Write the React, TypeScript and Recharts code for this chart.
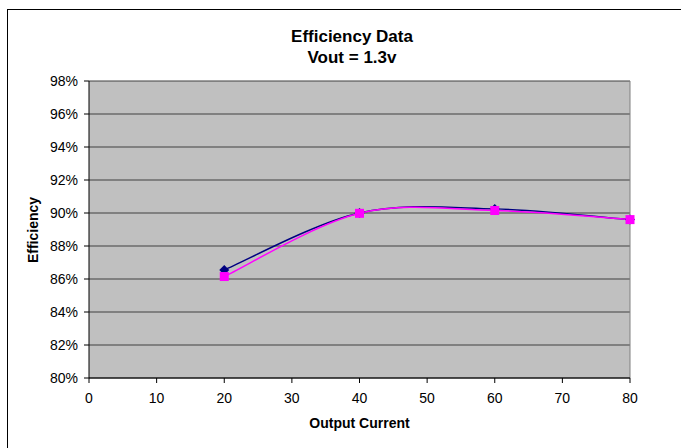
import React from 'react';
import { LineChart, Line, XAxis, YAxis, CartesianGrid, ReferenceLine } from 'recharts';

const current = [20, 40, 60, 80];
const effA = [86.55, 90.0, 90.25, 89.6];
const effB = [86.15, 89.98, 90.15, 89.6];
const yTicks = [80, 82, 84, 86, 88, 90, 92, 94, 96, 98];
const xTicks = [0, 10, 20, 30, 40, 50, 60, 70, 80];

const data = current.map((c, i) => ({ current: c, a: effA[i], b: effB[i] }));

const font = '"Liberation Sans", Arial, sans-serif';

// Excel-style smoothed line (Catmull-Rom through the points)
const smooth = (context: any) => {
  let pts: number[][] = [];
  return {
    areaStart() {},
    areaEnd() {},
    lineStart() {
      pts = [];
    },
    point(x: number, y: number) {
      pts.push([+x, +y]);
    },
    lineEnd() {
      if (!pts.length) return;
      context.moveTo(pts[0][0], pts[0][1]);
      for (let i = 0; i < pts.length - 1; i++) {
        const p0 = pts[i - 1] || pts[i];
        const p1 = pts[i];
        const p2 = pts[i + 1];
        const p3 = pts[i + 2] || p2;
        context.bezierCurveTo(
          p1[0] + (p2[0] - p0[0]) / 6,
          p1[1] + (p2[1] - p0[1]) / 6,
          p2[0] - (p3[0] - p1[0]) / 6,
          p2[1] - (p3[1] - p1[1]) / 6,
          p2[0],
          p2[1]
        );
      }
    },
  };
};

const Diamond = (props: any) => {
  const { cx, cy } = props;
  if (cx == null || cy == null) return null;
  const r = 5;
  return <path d={`M${cx},${cy - r}L${cx + r},${cy}L${cx},${cy + r}L${cx - r},${cy}Z`} fill="#000080" />;
};

const Square = (props: any) => {
  const { cx, cy } = props;
  if (cx == null || cy == null) return null;
  return <rect x={cx - 4.5} y={cy - 4.5} width={9} height={9} fill="#ff00ff" />;
};

const App = () => {
  return (
    <div style={{ position: 'absolute', left: 0, top: 0, width: 681, height: 448, overflow: 'hidden', background: '#fff' }}>
      <div style={{ position: 'absolute', left: 7, top: 9, width: 800, height: 600, border: '1px solid #000' }} />
      <div style={{ position: 'absolute', left: 0, top: 0 }}>
        <LineChart width={681} height={448} data={data} margin={{ top: 81, right: 51, bottom: 40, left: 0 }}>
          <CartesianGrid vertical={false} stroke="#404040" fill="#c0c0c0" fillOpacity={1} />
          <XAxis
            dataKey="current"
            type="number"
            domain={[0, 80]}
            ticks={xTicks}
            height={30}
            stroke="#000"
            tickSize={5}
            tickMargin={10}
            tick={{ fill: '#000', fontSize: 14, fontFamily: font }}
          />
          <YAxis
            type="number"
            domain={[80, 98]}
            ticks={yTicks}
            width={89}
            stroke="#000"
            tickSize={5}
            tickMargin={6}
            tickFormatter={(v: number) => `${v}%`}
            tick={{ fill: '#000', fontSize: 14, fontFamily: font }}
          />
          <ReferenceLine x={80} stroke="#808080" strokeWidth={1} />
          <Line
            dataKey="a"
            type={smooth as any}
            stroke="#000080"
            strokeWidth={1.5}
            dot={(p: any) => <Diamond key={`a${p.index}`} {...p} />}
            activeDot={false}
            isAnimationActive={false}
          />
          <Line
            dataKey="b"
            type={smooth as any}
            stroke="#ff00ff"
            strokeWidth={1.5}
            dot={(p: any) => <Square key={`b${p.index}`} {...p} />}
            activeDot={false}
            isAnimationActive={false}
          />
        </LineChart>
      </div>
      <svg width={681} height={448} style={{ position: 'absolute', left: 0, top: 0, pointerEvents: 'none' }}>
        <g fontFamily={font} fontWeight="bold" fill="#000">
          <text x={352} y={41.7} textAnchor="middle" fontSize={17}>Efficiency Data</text>
          <text x={352} y={63.3} textAnchor="middle" fontSize={17}>Vout = 1.3v</text>
          <text x={359.5} y={428} textAnchor="middle" fontSize={14}>Output Current</text>
          <text x={38} y={230} textAnchor="middle" fontSize={14} transform="rotate(-90 38 230)">Efficiency</text>
        </g>
      </svg>
    </div>
  );
};

export default App;
